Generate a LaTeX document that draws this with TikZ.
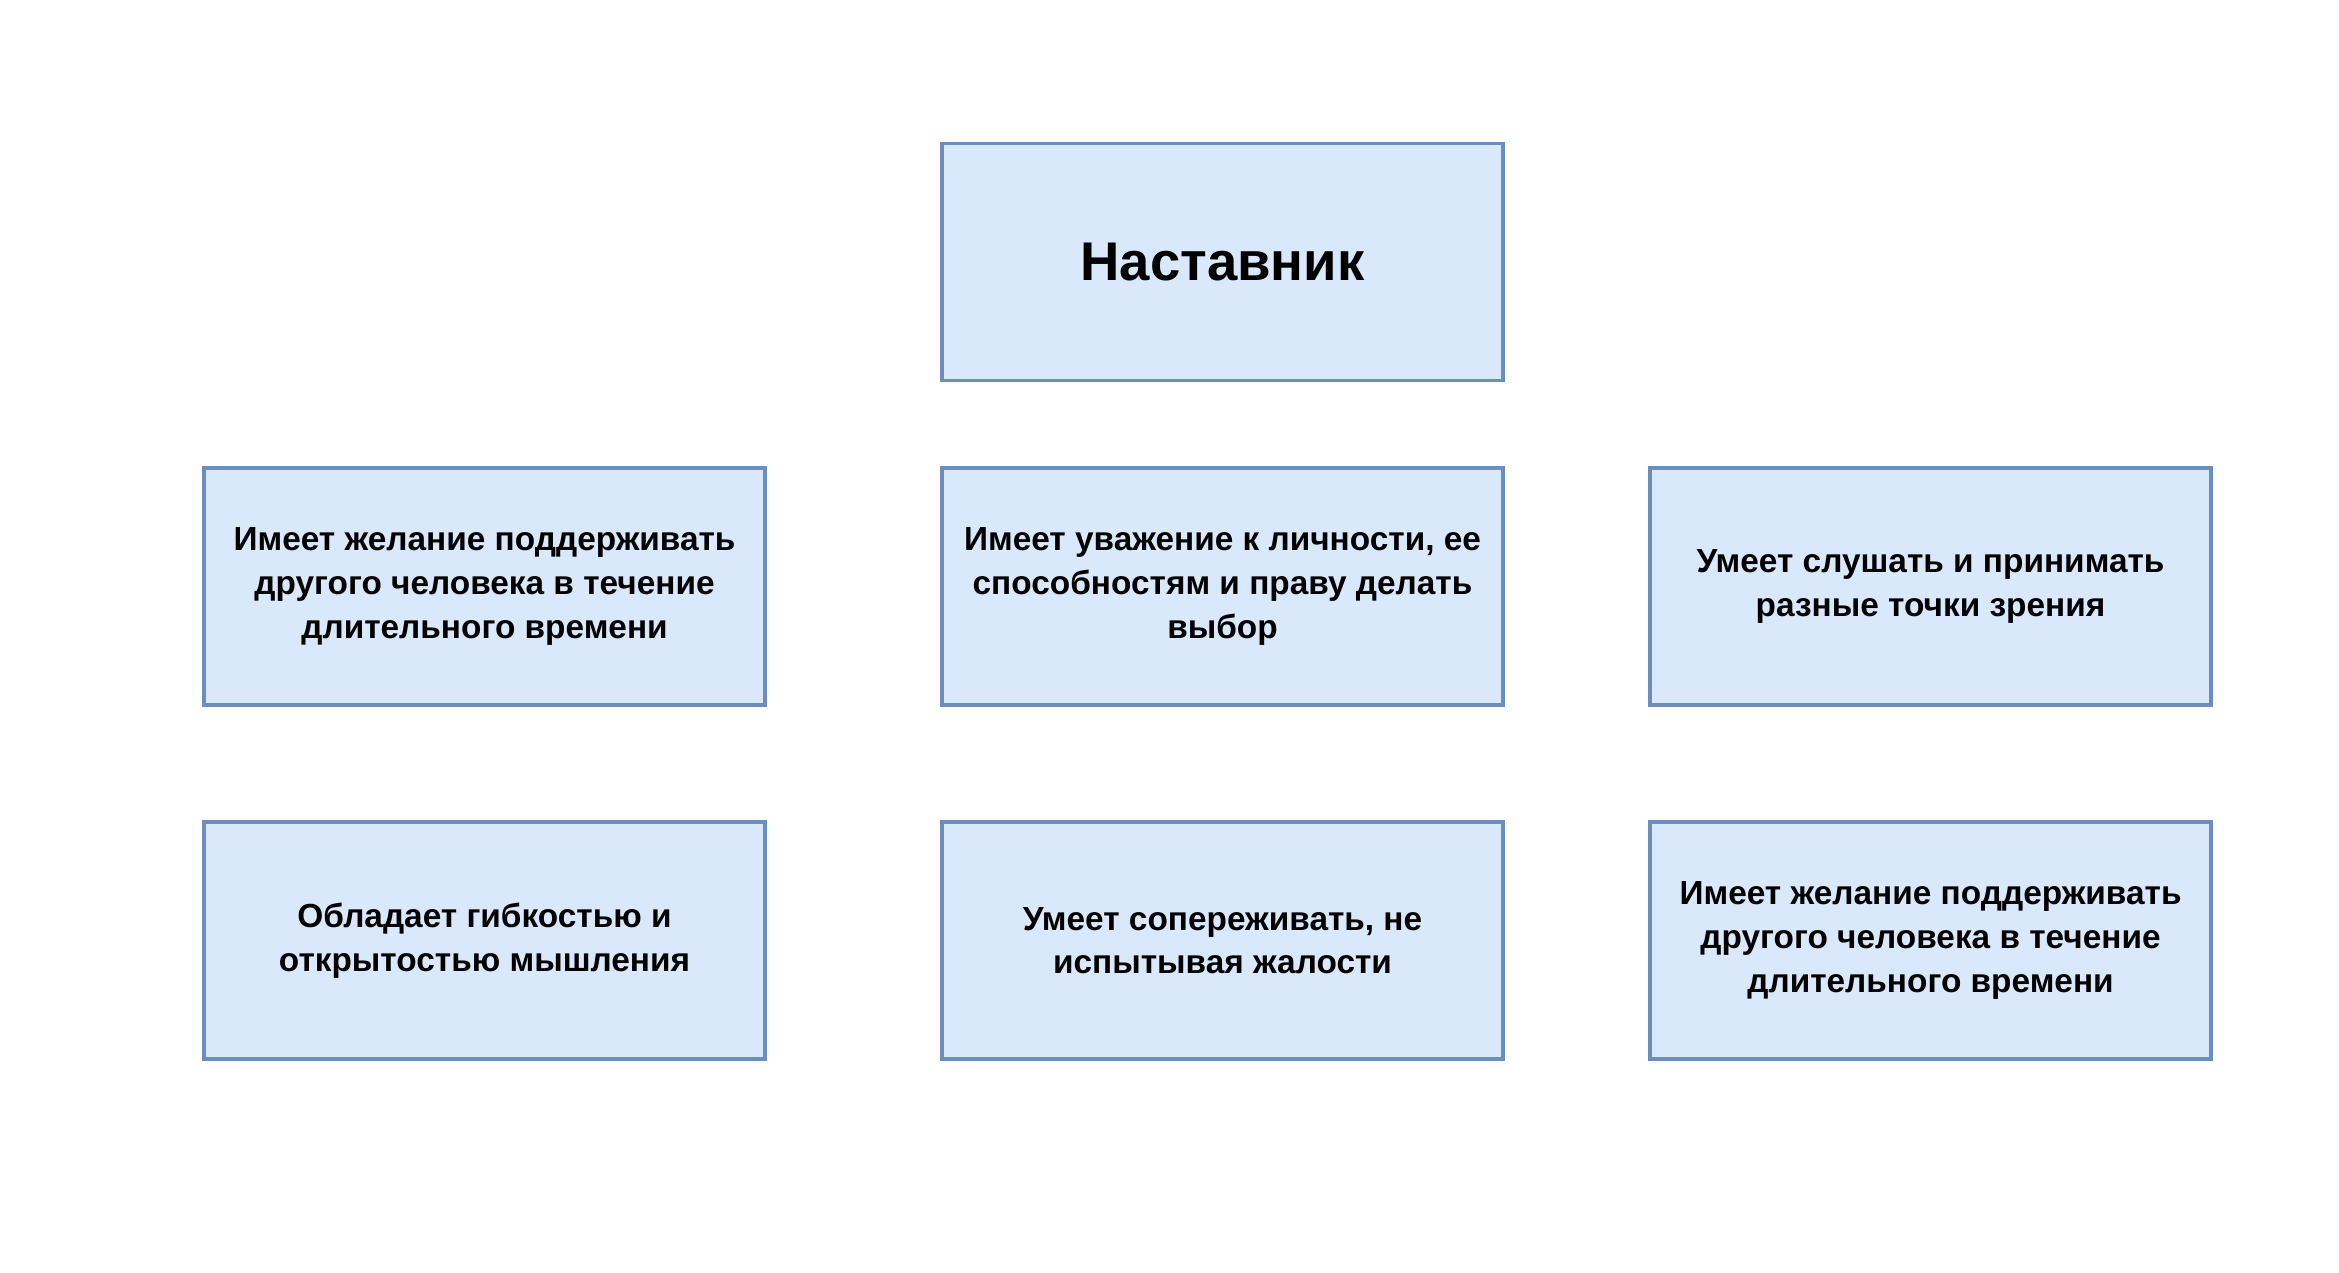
\documentclass[tikz,border=0pt]{standalone}
\usepackage{fontspec}
\setmainfont{Liberation Sans}
\definecolor{boxfill}{HTML}{DAE8FC}
\definecolor{boxline}{HTML}{6C8EBF}
\tikzset{
  trait/.style={draw=boxline, fill=boxfill, line width=0.9pt, minimum width=5.61cm,
    minimum height=2.37cm, align=center, font=\fontsize{9.5}{12.4}\selectfont\bfseries},
  head/.style={trait, font=\fontsize{15.5}{18}\selectfont\bfseries}
}
\begin{document}
\begin{tikzpicture}

\useasboundingbox[fill=white] (0,0) rectangle (23.39,-12.72);

% Title
\node[head] (mentor) at (12.225,-2.6175) {Наставник};

% Row one
\node[trait] (supportA) at (4.845,-5.865) {Имеет желание поддерживать\\другого человека в течение\\длительного времени};
\node[trait] (respect) at (12.225,-5.865) {Имеет уважение к личности, ее\\способностям и праву делать\\выбор};
\node[trait] (listen) at (19.305,-5.865) {Умеет слушать и принимать\\разные точки зрения};

% Row two
\node[trait] (flexible) at (4.845,-9.405) {Обладает гибкостью и\\открытостью мышления};
\node[trait] (empathy) at (12.225,-9.405) {Умеет сопереживать, не\\испытывая жалости};
\node[trait] (supportB) at (19.305,-9.405) {Имеет желание поддерживать\\другого человека в течение\\длительного времени};

\end{tikzpicture}
\end{document}
